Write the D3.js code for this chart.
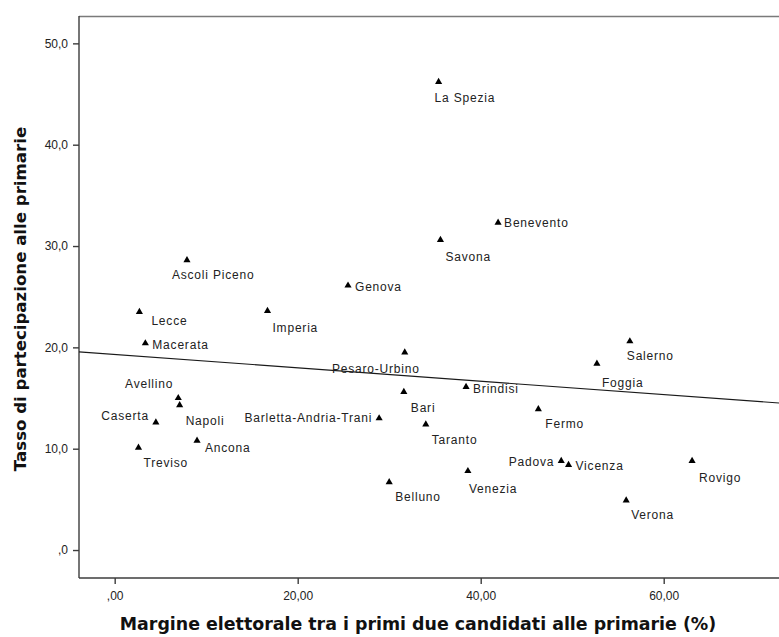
<!DOCTYPE html>
<html>
<head>
<meta charset="utf-8">
<script src="https://cdn.jsdelivr.net/npm/d3@7"></script>
<style>
  html, body { margin: 0; padding: 0; background: #fff; }
  svg { display: block; }
</style>
</head>
<body>
<svg id="chart" width="779" height="637"></svg>
<script>
// Province names, primary-election margin (%) and turnout (%)
const provinces = ["La Spezia","Benevento","Savona","Ascoli Piceno","Genova","Lecce","Imperia",
  "Macerata","Salerno","Pesaro-Urbino","Foggia","Brindisi","Bari","Avellino","Napoli","Fermo",
  "Barletta-Andria-Trani","Caserta","Taranto","Ancona","Treviso","Padova","Rovigo","Vicenza",
  "Venezia","Belluno","Verona"];
const margin = [35.4, 41.9, 35.6, 7.9, 25.5, 2.7, 16.7,
  3.35, 56.3, 31.7, 52.7, 38.4, 31.6, 6.95, 7.1, 46.3,
  28.9, 4.5, 34.0, 9.0, 2.6, 48.8, 63.1, 49.6,
  38.6, 30.0, 55.9];
const turnout = [46.2, 32.3, 30.6, 28.6, 26.1, 23.5, 23.6,
  20.4, 20.6, 19.5, 18.4, 16.1, 15.6, 15.0, 14.3, 13.9,
  13.0, 12.6, 12.4, 10.8, 10.1, 8.8, 8.8, 8.4,
  7.8, 6.7, 4.9];

// Linear fit: turnout = intercept + slope * margin
const fitIntercept = 19.3;
const fitSlope = -0.066;

const xTicks = [0, 20, 40, 60];
const yTicks = [0, 10, 20, 30, 40, 50];

// Label placement around each marker: [dx, dy, anchor]
const labelPlacement = {
  "La Spezia": [-4, 20, "start"], "Benevento": [6, 4, "start"], "Savona": [5, 21, "start"],
  "Ascoli Piceno": [-15, 19, "start"], "Genova": [7, 5, "start"], "Lecce": [12, 13, "start"],
  "Imperia": [5, 21, "start"], "Macerata": [7, 6, "start"], "Salerno": [-3, 19, "start"],
  "Pesaro-Urbino": [15, 21, "end"], "Foggia": [5, 23, "start"], "Brindisi": [7, 6, "start"],
  "Bari": [7, 20, "start"], "Avellino": [-5, -10, "end"], "Napoli": [6, 20, "start"],
  "Fermo": [7, 19, "start"], "Barletta-Andria-Trani": [-7, 4, "end"], "Caserta": [-7, -2, "end"],
  "Taranto": [6, 20, "start"], "Ancona": [8, 11, "start"], "Treviso": [5, 19, "start"],
  "Padova": [-7, 5, "end"], "Rovigo": [7, 21, "start"], "Vicenza": [7, 5, "start"],
  "Venezia": [1, 22, "start"], "Belluno": [6, 19, "start"], "Verona": [5, 19, "start"]
};

const svg = d3.select("#chart");
const frame = { left: 79, top: 16, right: 779, bottom: 578 };

const x = d3.scaleLinear().domain([-3.9, 72.6]).range([frame.left, frame.right]);
const y = d3.scaleLinear().domain([-2.76, 52.7]).range([frame.bottom, frame.top]);

const fmtX = d => d === 0 ? ",00" : d3.format(".2f")(d).replace(".", ",");
const fmtY = d => d === 0 ? ",0" : d3.format(".1f")(d).replace(".", ",");

// Top frame line
svg.append("line").attr("x1", frame.left).attr("x2", frame.right)
  .attr("y1", frame.top + 0.5).attr("y2", frame.top + 0.5)
  .attr("stroke", "#7a7a7a").attr("stroke-width", 1.6);

// Axes
const xAxis = svg.append("g").attr("transform", `translate(0,${frame.bottom})`)
  .call(d3.axisBottom(x).tickValues(xTicks).tickFormat(fmtX).tickSize(6).tickPadding(7));
const yAxis = svg.append("g").attr("transform", `translate(${frame.left},0)`)
  .call(d3.axisLeft(y).tickValues(yTicks).tickFormat(fmtY).tickSize(6).tickPadding(5));

[xAxis, yAxis].forEach(g => {
  g.select(".domain").attr("stroke", "#3c3c3c").attr("stroke-width", 1.4);
  g.selectAll(".tick line").attr("stroke", "#3c3c3c").attr("stroke-width", 1.4);
  g.selectAll(".tick text").attr("fill", "#222")
    .style("font-family", "'Liberation Sans', Arial, sans-serif").style("font-size", "12px");
});
xAxis.select(".domain").attr("d", `M${frame.left},0H${frame.right}`);
yAxis.select(".domain").attr("d", `M0,${frame.top}V${frame.bottom}`);

// Fit line
const xd = x.domain();
svg.append("line")
  .attr("x1", x(xd[0])).attr("y1", y(fitIntercept + fitSlope * xd[0]))
  .attr("x2", x(xd[1])).attr("y2", y(fitIntercept + fitSlope * xd[1]))
  .attr("stroke", "#1a1a1a").attr("stroke-width", 1.1);

// Markers and labels
const points = provinces.map((p, i) => ({ name: p, mx: margin[i], ty: turnout[i] }));
const tri = d3.symbol().type(d3.symbolTriangle).size(22);

const g = svg.append("g");
g.selectAll("path.pt").data(points).join("path")
  .attr("class", "pt")
  .attr("d", tri)
  .attr("transform", d => `translate(${x(d.mx)},${y(d.ty)})`)
  .attr("fill", "#000");

g.selectAll("text.lbl").data(points).join("text")
  .attr("class", "lbl")
  .attr("x", d => x(d.mx) + labelPlacement[d.name][0])
  .attr("y", d => y(d.ty) + labelPlacement[d.name][1])
  .attr("text-anchor", d => labelPlacement[d.name][2])
  .attr("fill", "#222")
  .style("font-family", "'Liberation Sans', Arial, sans-serif")
  .style("font-size", "12px")
  .style("letter-spacing", "0.8px")
  .text(d => d.name);

// Axis titles
const titleFont = "'DejaVu Sans', Verdana, sans-serif";
svg.append("text")
  .attr("x", 418).attr("y", 630)
  .attr("text-anchor", "middle")
  .style("font-family", titleFont).style("font-weight", "bold").style("font-size", "17.4px")
  .attr("fill", "#111")
  .text("Margine elettorale tra i primi due candidati alle primarie (%)");

svg.append("text")
  .attr("transform", "translate(26,299) rotate(-90)")
  .attr("text-anchor", "middle")
  .style("font-family", titleFont).style("font-weight", "bold").style("font-size", "16.6px")
  .attr("fill", "#111")
  .text("Tasso di partecipazione alle primarie");
</script>
</body>
</html>
